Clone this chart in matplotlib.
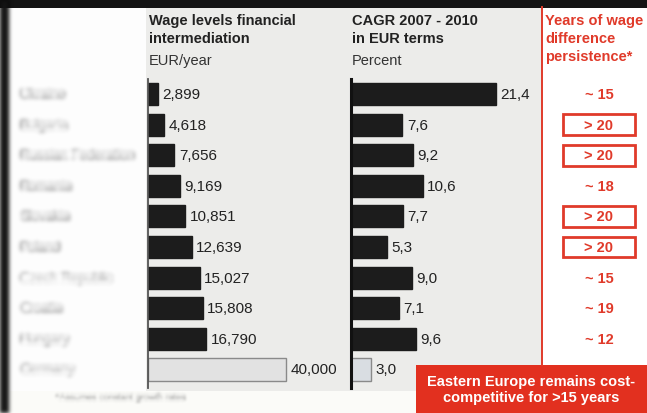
import matplotlib
matplotlib.use("Agg")
import matplotlib.pyplot as plt
from matplotlib.patches import Rectangle
import numpy as np

plt.rcParams["font.family"] = ["Liberation Sans", "DejaVu Sans"]

W, H = 647, 414
RED = "#e03a2a"
DARK = "#1c1c1c"

countries = ["Ukraine", "Bulgaria", "Russian Federation", "Romania", "Slovakia",
             "Poland", "Czech Republic", "Croatia", "Hungary", "Germany"]
wages = [2899, 4618, 7656, 9169, 10851, 12639, 15027, 15808, 16790, 40000]
wage_labels = ["2,899", "4,618", "7,656", "9,169", "10,851", "12,639", "15,027",
               "15,808", "16,790", "40,000"]
cagr = [21.4, 7.6, 9.2, 10.6, 7.7, 5.3, 9.0, 7.1, 9.6, 3.0]
cagr_labels = ["21,4", "7,6", "9,2", "10,6", "7,7", "5,3", "9,0", "7,1", "9,6", "3,0"]
years = ["~ 15", "> 20", "> 20", "~ 18", "> 20", "> 20", "~ 15", "~ 19", "~ 12", ""]
boxed = [False, True, True, False, True, True, False, False, False, False]


def px(x0, y0, x1, y1):
    # pixel box (top-left origin) -> figure fraction rect
    return [x0 / W, 1 - y1 / H, (x1 - x0) / W, (y1 - y0) / H]


def blur(img, dpi, r=3):
    pad = int(np.ceil(r * 3))
    a = np.pad(img, ((pad, pad), (pad, pad), (0, 0)))
    k = np.exp(-0.5 * (np.arange(-pad, pad + 1) / r) ** 2)
    k /= k.sum()
    out = np.zeros_like(a)
    for i, w in enumerate(k):
        out += w * np.roll(a, i - pad, axis=0)
    a, out = out, np.zeros_like(out)
    for i, w in enumerate(k):
        out += w * np.roll(a, i - pad, axis=1)
    return out, -pad, -pad


fig = plt.figure(figsize=(W / 100, H / 100), dpi=100)
fig.patch.set_facecolor("#fbfbf8")

# background panels
bg = fig.add_axes([0, 0, 1, 1])
bg.set_xlim(0, W); bg.set_ylim(H, 0); bg.axis("off")
bg.add_patch(Rectangle((10, 8), 136, 384, color="#fdfdfd", lw=0))
bg.add_patch(Rectangle((146, 8), 396, 384, color="#ececea", lw=0))
bg.add_patch(Rectangle((542, 8), 110, 360, color="#ffffff", lw=0))
bg.plot([542, 542], [8, 366], color=RED, lw=1.4)
bg.add_patch(Rectangle((0, 0), W, 9, color="#141414", lw=0))
edge = bg.add_patch(Rectangle((-4, 0), 13, H, color="#141414", lw=0))
edge.set_agg_filter(lambda im, dpi: blur(im, dpi, r=2))

# column headers
hdr = dict(fontsize=10.5, fontweight="bold", va="top", linespacing=1.35)
bg.text(149, 14, "Wage levels financial\nintermediation", color="#222222", **hdr)
bg.text(149, 54, "EUR/year", fontsize=10.5, color="#333333", va="top")
bg.text(352, 14, "CAGR 2007 - 2010\nin EUR terms", color="#222222", **hdr)
bg.text(352, 54, "Percent", fontsize=10.5, color="#333333", va="top")
bg.text(545, 14, "Years of wage\ndifference\npersistence*", color=RED, **hdr)

n = len(countries)
ylim = (n - 0.5, -0.5)
ax_top, ax_bot = 79.7, 385.8
pos = np.arange(n)
bar_h = 0.72

# country labels (soft)
lab = fig.add_axes(px(10, ax_top, 146, ax_bot))
lab.set_xlim(0, 136); lab.set_ylim(*ylim); lab.axis("off")
for i, c in enumerate(countries):
    t = lab.text(10, i, c, fontsize=9.5, color="#8f8f8f", va="center")
    t.set_agg_filter(lambda im, dpi: blur(im, dpi, r=2.2))

# wage levels
s1 = 138 / 40000
ax1 = fig.add_axes(px(148, ax_top, 345, ax_bot))
ax1.set_xlim(0, 197 / s1); ax1.set_ylim(*ylim)
cols1 = [DARK] * (n - 1) + ["#e2e2e2"]
edges1 = [DARK] * (n - 1) + ["#8a8a8a"]
ax1.barh(pos, wages, height=bar_h, color=cols1, edgecolor=edges1, lw=1)
for i, (v, t) in enumerate(zip(wages, wage_labels)):
    ax1.text(v + 1300, i, t, fontsize=11, color="#222222", va="center")
ax1.axis("off")
ax1.plot([0, 0], [-0.5, n - 0.4], color="#555555", lw=1.3, clip_on=False)

# CAGR
s2 = 145 / 21.4
ax2 = fig.add_axes(px(351, ax_top, 540, ax_bot))
ax2.set_xlim(0, 189 / s2); ax2.set_ylim(*ylim)
cols2 = [DARK] * (n - 1) + ["#d9dde2"]
edges2 = [DARK] * (n - 1) + ["#8a8a8a"]
ax2.barh(pos, cagr, height=bar_h, color=cols2, edgecolor=edges2, lw=1)
for i, (v, t) in enumerate(zip(cagr, cagr_labels)):
    ax2.text(v + 0.65, i, t, fontsize=11, color="#222222", va="center")
ax2.axis("off")
ax2.plot([0, 0], [-0.5, n - 0.4], color="#111111", lw=2.2, clip_on=False)

# persistence column
ax3 = fig.add_axes(px(542, ax_top, 647, ax_bot))
ax3.set_xlim(0, 105); ax3.set_ylim(*ylim); ax3.axis("off")
for i, (t, b) in enumerate(zip(years, boxed)):
    if not t:
        continue
    ax3.text(57, i, t, fontsize=10.5, fontweight="bold", color=RED, ha="center", va="center")
    if b:
        ax3.add_patch(Rectangle((21, i - 0.34), 72, 0.68, fill=False, ec=RED, lw=2))

# callout
bg.add_patch(Rectangle((416, 366), 235, 50, color="#e2301f", lw=0))
bg.text(531, 390, "Eastern Europe remains cost-\ncompetitive for >15 years", fontsize=10.5,
        fontweight="bold", color="white", ha="center", va="center", linespacing=1.1)

# footnote
fn = bg.text(56, 398, "*Assumes constant growth rates", fontsize=6.5, color="#777777", va="center")
fn.set_agg_filter(lambda im, dpi: blur(im, dpi, r=1.5))

fig.savefig("out.png", dpi=100)
